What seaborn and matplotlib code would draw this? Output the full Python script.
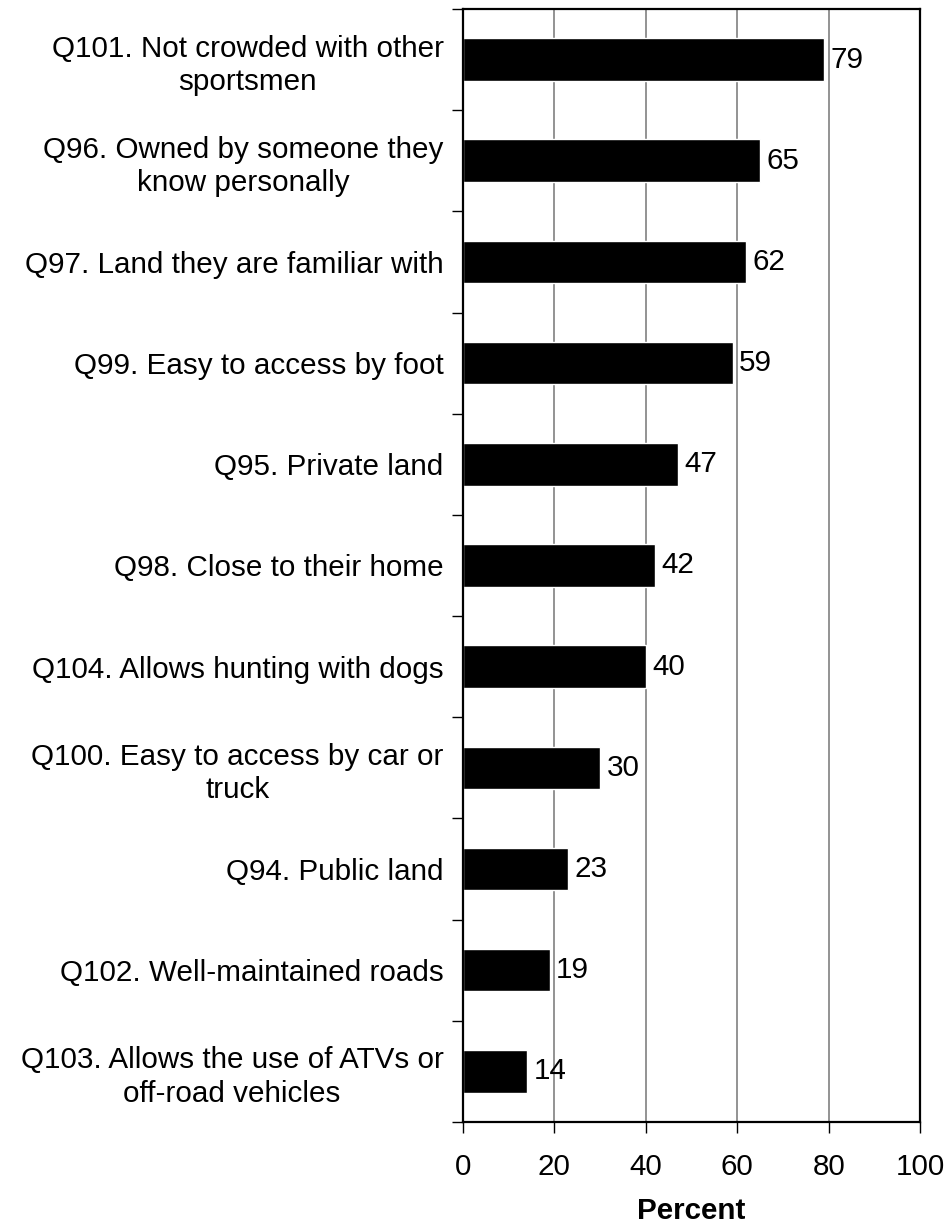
import pandas as pd
import numpy as np
import matplotlib
matplotlib.use('Agg')
import matplotlib.pyplot as plt
import seaborn as sns

items = ['Q101. Not crowded with other\nsportsmen',
         'Q96. Owned by someone they\nknow personally',
         'Q97. Land they are familiar with',
         'Q99. Easy to access by foot',
         'Q95. Private land',
         'Q98. Close to their home',
         'Q104. Allows hunting with dogs',
         'Q100. Easy to access by car or\ntruck',
         'Q94. Public land',
         'Q102. Well-maintained roads',
         'Q103. Allows the use of ATVs or\noff-road vehicles']
percent = [79, 65, 62, 59, 47, 42, 40, 30, 23, 19, 14]
xticks = [0, 20, 40, 60, 80, 100]

df = pd.DataFrame({'item': items, 'percent': percent})

sns.set_style('white')
plt.rcParams['font.family'] = ['Liberation Sans', 'DejaVu Sans']
plt.rcParams['text.color'] = 'black'
plt.rcParams['xtick.color'] = 'black'
plt.rcParams['ytick.color'] = 'black'
plt.rcParams['axes.labelcolor'] = 'black'

fs = 21.3

fig = plt.figure(figsize=(9.48, 12.27), dpi=100)
ax = fig.add_axes([0.4884, 0.0856, 0.4821, 0.9071])

ax.set_axisbelow(True)
for x in xticks[1:-1]:
    ax.axvline(x, color='#808080', lw=1.2, zorder=0)

sns.barplot(data=df, x='percent', y='item', color='black', width=0.42,
            saturation=1, ax=ax, zorder=2)

for i, v in enumerate(percent):
    ax.text(v + 1.4, i, str(v), va='center', ha='left', fontsize=fs)

ax.set_xlim(0, 100)
ax.set_ylim(len(items) - 0.5, -0.5)
ax.set_xticks(xticks)
ax.set_xticklabels([str(t) for t in xticks], fontsize=fs)
ax.tick_params(axis='x', length=8, width=1, pad=14, bottom=True)
ax.tick_params(axis='y', which='major', length=0, pad=14, labelsize=fs)
ax.set_yticks(np.arange(-0.5, len(items), 1), minor=True)
ax.tick_params(axis='y', which='minor', length=8, width=1, left=True)
for lbl in ax.get_yticklabels():
    lbl.set_multialignment('center')
    lbl.set_linespacing(1.25)

ax.set_xlabel('Percent', fontsize=fs, fontweight='bold', labelpad=12)
ax.set_ylabel('')
for s in ax.spines.values():
    s.set_visible(True)
    s.set_color('black')
    s.set_linewidth(1.6)

fig.savefig('out.png', dpi=100)
